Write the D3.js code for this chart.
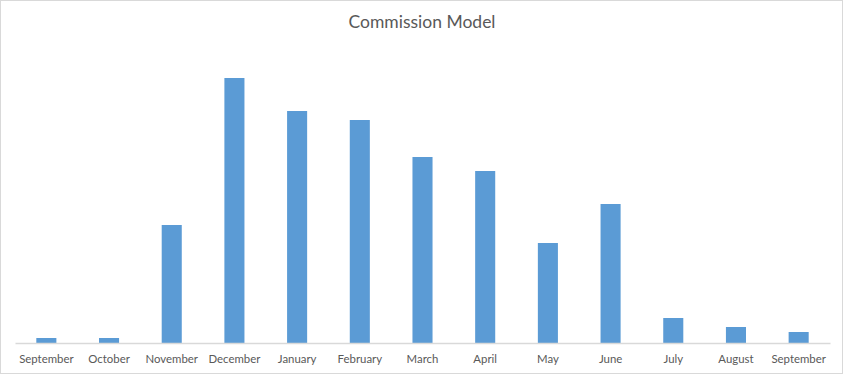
<!DOCTYPE html>
<html>
<head>
<meta charset="utf-8">
<script src="https://cdn.jsdelivr.net/npm/d3@7"></script>
<style>
  html, body { margin: 0; padding: 0; background: #fff; }
  svg { display: block; font-family: Lato, "Open Sans", sans-serif; }
</style>
</head>
<body>
<div id="chart"></div>
<script>
const months = ['September', 'October', 'November', 'December', 'January', 'February',
  'March', 'April', 'May', 'June', 'July', 'August', 'September'];
const commission = [5, 5, 118, 265, 232, 223, 186, 172, 100, 139, 25, 16, 11];
const chartTitle = 'Commission Model';

const width = 845, height = 375;
const margin = { top: 43, right: 15, bottom: 32, left: 15 };

const svg = d3.select('#chart').append('svg')
  .attr('width', width)
  .attr('height', height);

// chart area border
svg.append('rect')
  .attr('x', 0.5).attr('y', 0.5)
  .attr('width', 842).attr('height', 373)
  .attr('fill', '#fff')
  .attr('stroke', '#d9d9d9');

const x = d3.scaleBand()
  .domain(d3.range(months.length))
  .range([margin.left, 830])
  .paddingInner(0.68)
  .paddingOuter(0.34);

const y = d3.scaleLinear()
  .domain([0, 300])
  .range([343, margin.top]);

svg.selectAll('rect.bar')
  .data(commission)
  .enter()
  .append('rect')
  .attr('class', 'bar')
  .attr('x', (d, i) => x(i))
  .attr('y', d => y(d))
  .attr('width', x.bandwidth())
  .attr('height', d => y(0) - y(d))
  .attr('fill', '#5b9bd5');

const xAxis = svg.append('g')
  .attr('transform', `translate(0,${y(0)})`)
  .call(d3.axisBottom(x).tickSize(0).tickPadding(12).tickFormat(i => months[i]));

xAxis.select('.domain').attr('stroke', '#d9d9d9').attr('stroke-width', 1.5);
xAxis.selectAll('text')
  .attr('fill', '#595959')
  .style('font-size', '11.4px')
  .style('font-family', 'Lato, "Open Sans", sans-serif');

svg.append('text')
  .attr('x', 422)
  .attr('y', 28)
  .attr('text-anchor', 'middle')
  .attr('fill', '#595959')
  .style('font-size', '17.5px')
  .text(chartTitle);
</script>
</body>
</html>
